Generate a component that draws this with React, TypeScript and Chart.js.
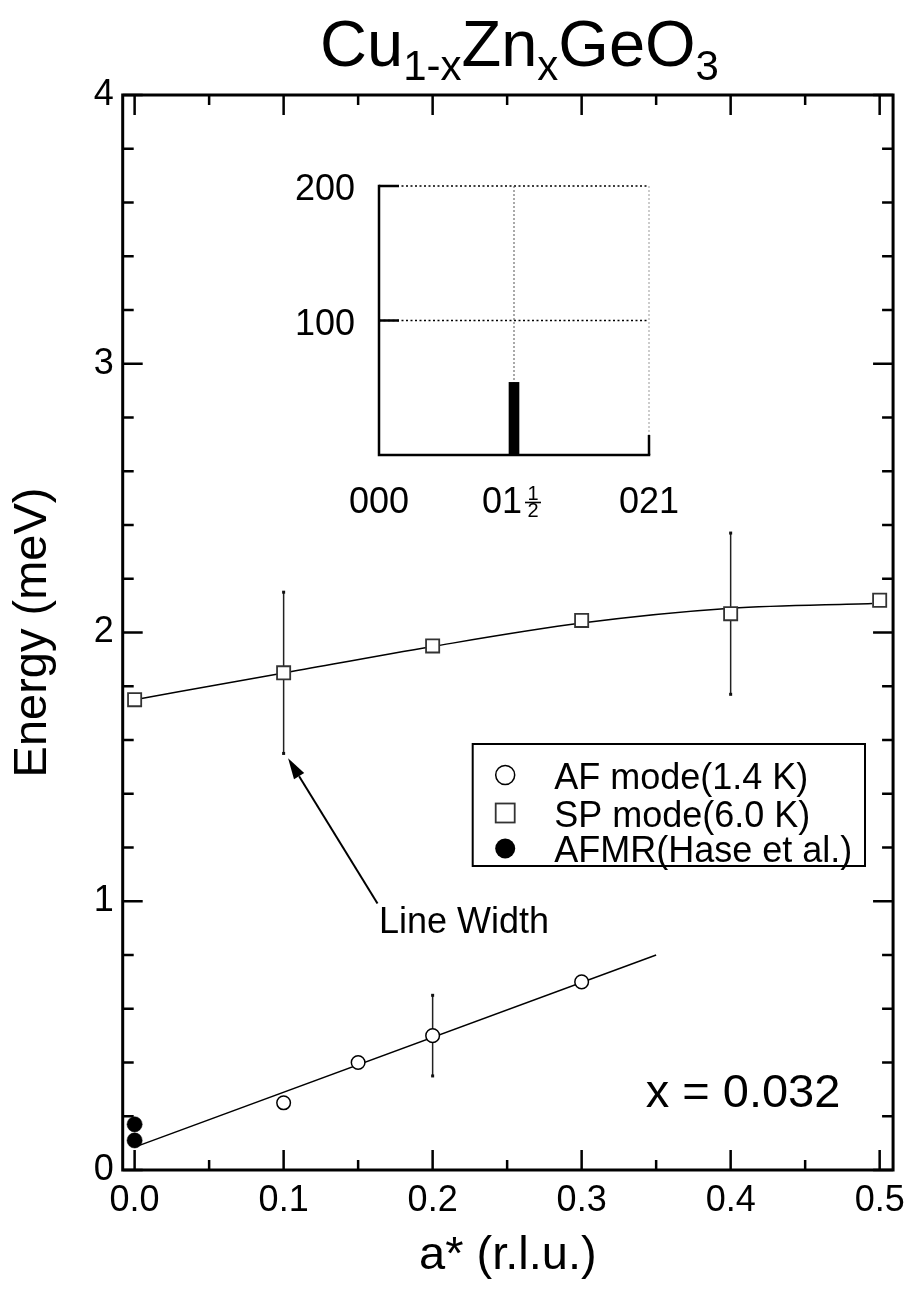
import React, { useEffect, useRef } from "react";
import { Chart, registerables } from "chart.js";

Chart.register(...registerables);

// ---------------- data ----------------
const spX = [0.0, 0.1, 0.2, 0.3, 0.4, 0.5];
const spY = [1.75, 1.85, 1.95, 2.045, 2.07, 2.12];
const spErr = [0, 0.3, 0, 0, 0.3, 0];

// smooth fit curve drawn through the SP data
const spFitX = [0.0, 0.1, 0.2, 0.3, 0.4, 0.495];
const spFitY = [1.75, 1.849, 1.948, 2.035, 2.09, 2.108];

const afX = [0.1, 0.15, 0.2, 0.3];
const afY = [0.25, 0.4, 0.5, 0.7];
const afErr = [0, 0, 0.15, 0];

const afFitX = [0.0, 0.35];
const afFitY = [0.085, 0.8];

const afmrX = [0.0, 0.0];
const afmrY = [0.17, 0.11];

const legendLabels = ["AF mode(1.4 K)", "SP mode(6.0 K)", "AFMR(Hase et al.)"];

const titleParts: [string, boolean][] = [
  ["Cu", false],
  ["1-x", true],
  ["Zn", false],
  ["x", true],
  ["GeO", false],
  ["3", true],
];

const compositionLabel = "x = 0.032";
const annotationLabel = "Line Width";

// inset
const insetXLabels = ["000", "01", "021"]; // middle one gets a 1/2 fraction
const insetBarX = [1];
const insetBarY = [54];
const insetYTicks = [100, 200];

const FONT = "'Liberation Sans', Arial, Helvetica, sans-serif";

// ---------------- main chart plugin ----------------
const mainDecor = {
  id: "mainDecor",
  beforeDatasetsDraw(chart: any) {
    const { ctx, scales } = chart;
    const x = scales.x;
    const y = scales.y;
    ctx.save();
    ctx.strokeStyle = "#222";
    ctx.fillStyle = "#111";
    ctx.lineWidth = 1.5;
    const drawErr = (xs: number[], ys: number[], es: number[]) => {
      xs.forEach((xv, i) => {
        if (!es[i]) return;
        const px = x.getPixelForValue(xv);
        const top = y.getPixelForValue(ys[i] + es[i]);
        const bot = y.getPixelForValue(ys[i] - es[i]);
        ctx.beginPath();
        ctx.moveTo(px, top);
        ctx.lineTo(px, bot);
        ctx.stroke();
        ctx.fillRect(px - 1.5, top - 1.5, 3, 3);
        ctx.fillRect(px - 1.5, bot - 1.5, 3, 3);
      });
    };
    drawErr(spX, spY, spErr);
    drawErr(afX, afY, afErr);
    ctx.restore();
  },
  afterDraw(chart: any) {
    const { ctx, chartArea, scales } = chart;
    const x = scales.x;
    const y = scales.y;
    const { left, right, top, bottom } = chartArea;
    ctx.save();

    // frame
    ctx.strokeStyle = "#000";
    ctx.lineWidth = 3;
    ctx.lineCap = "square";
    ctx.strokeRect(left, top, right - left, bottom - top);

    // ticks (inward, all four sides)
    ctx.lineWidth = 2.5;
    ctx.lineCap = "butt";
    for (let i = 0; i <= 10; i++) {
      const v = i * 0.05;
      const px = x.getPixelForValue(v);
      const len = i % 2 === 0 ? 20 : 10;
      ctx.beginPath();
      ctx.moveTo(px, bottom);
      ctx.lineTo(px, bottom - len);
      ctx.moveTo(px, top);
      ctx.lineTo(px, top + len);
      ctx.stroke();
    }
    for (let i = 0; i <= 20; i++) {
      const v = i * 0.2;
      const py = y.getPixelForValue(v);
      const len = i % 5 === 0 ? 20 : 11;
      ctx.beginPath();
      ctx.moveTo(left, py);
      ctx.lineTo(left + len, py);
      ctx.moveTo(right, py);
      ctx.lineTo(right - len, py);
      ctx.stroke();
    }

    // title with subscripts
    ctx.fillStyle = "#000";
    ctx.textAlign = "left";
    ctx.textBaseline = "alphabetic";
    const bigF = `65px ${FONT}`;
    const smallF = `42px ${FONT}`;
    let total = 0;
    titleParts.forEach(([t, sub]) => {
      ctx.font = sub ? smallF : bigF;
      total += ctx.measureText(t).width;
    });
    let cx = 519.5 - total / 2;
    titleParts.forEach(([t, sub]) => {
      ctx.font = sub ? smallF : bigF;
      ctx.fillText(t, cx, sub ? 80 : 66);
      cx += ctx.measureText(t).width;
    });

    // composition label
    ctx.font = `47px ${FONT}`;
    ctx.fillText(compositionLabel, x.getPixelForValue(0.343), y.getPixelForValue(0.234));

    // annotation arrow
    const tipX = x.getPixelForValue(0.103);
    const tipY = y.getPixelForValue(1.532);
    const tailX = x.getPixelForValue(0.163);
    const tailY = y.getPixelForValue(0.992);
    const ang = Math.atan2(tipY - tailY, tipX - tailX);
    const hl = 21;
    const hw = 6;
    const bx = tipX - hl * Math.cos(ang);
    const by = tipY - hl * Math.sin(ang);
    ctx.lineWidth = 2;
    ctx.beginPath();
    ctx.moveTo(tailX, tailY);
    ctx.lineTo(bx, by);
    ctx.stroke();
    ctx.beginPath();
    ctx.moveTo(tipX, tipY);
    ctx.lineTo(bx + hw * Math.sin(ang), by - hw * Math.cos(ang));
    ctx.lineTo(bx - hw * Math.sin(ang), by + hw * Math.cos(ang));
    ctx.closePath();
    ctx.fill();
    ctx.font = `36px ${FONT}`;
    ctx.fillText(annotationLabel, x.getPixelForValue(0.164), y.getPixelForValue(0.883));

    // legend
    const lx = left + 350;
    const ly = top + 649;
    const lw = 392.3;
    const lh = 122;
    ctx.fillStyle = "#fff";
    ctx.fillRect(lx, ly, lw, lh);
    ctx.strokeStyle = "#000";
    ctx.lineWidth = 2;
    ctx.strokeRect(lx, ly, lw, lh);
    const mx = lx + 32.5;
    const rowMid = [ly + 31, ly + 69, ly + 104.5];
    const rowBase = [ly + 45, ly + 82.5, ly + 118];
    // open circle
    ctx.lineWidth = 1.5;
    ctx.beginPath();
    ctx.arc(mx, rowMid[0], 9.5, 0, Math.PI * 2);
    ctx.fillStyle = "#fff";
    ctx.fill();
    ctx.strokeStyle = "#000";
    ctx.stroke();
    // open square
    ctx.strokeStyle = "#333";
    ctx.lineWidth = 1.8;
    ctx.strokeRect(mx - 9.5, rowMid[1] - 9.5, 19, 19);
    // filled circle
    ctx.beginPath();
    ctx.arc(mx, rowMid[2], 10, 0, Math.PI * 2);
    ctx.fillStyle = "#000";
    ctx.fill();
    ctx.font = `36px ${FONT}`;
    ctx.fillStyle = "#000";
    legendLabels.forEach((t, i) => {
      ctx.fillText(t, lx + 81.5, rowBase[i]);
    });

    ctx.restore();
  },
};

// ---------------- inset plugin ----------------
const insetDecor = {
  id: "insetDecor",
  beforeDatasetsDraw(chart: any) {
    const { ctx, scales } = chart;
    const x = scales.x;
    const y = scales.y;
    ctx.save();
    const x0 = x.getPixelForValue(0);
    const x2 = x.getPixelForValue(insetXLabels.length - 1);
    const y0 = y.getPixelForValue(0);
    const yTop = y.getPixelForValue(200);
    // horizontal dotted grid
    ctx.setLineDash([2, 2.5]);
    ctx.strokeStyle = "#000";
    ctx.lineWidth = 1.5;
    insetYTicks.forEach((t) => {
      const py = y.getPixelForValue(t);
      ctx.beginPath();
      ctx.moveTo(x0, py);
      ctx.lineTo(x2, py);
      ctx.stroke();
    });
    // vertical dotted grid
    ctx.lineWidth = 1;
    ctx.setLineDash([2, 2]);
    insetXLabels.forEach((_, i) => {
      if (i === 0) return;
      const px = x.getPixelForValue(i);
      ctx.strokeStyle = i === 1 ? "#555" : "#999";
      ctx.beginPath();
      ctx.moveTo(px, yTop);
      ctx.lineTo(px, y0);
      ctx.stroke();
    });
    ctx.restore();
  },
  afterDatasetsDraw(chart: any) {
    const { ctx, scales } = chart;
    const x = scales.x;
    const y = scales.y;
    ctx.save();
    const x0 = x.getPixelForValue(0);
    const x2 = x.getPixelForValue(insetXLabels.length - 1);
    const y0 = y.getPixelForValue(0);
    const yTop = y.getPixelForValue(200);
    ctx.strokeStyle = "#000";
    ctx.lineWidth = 2.5;
    ctx.lineCap = "square";
    ctx.beginPath();
    ctx.moveTo(x0, yTop);
    ctx.lineTo(x0, y0);
    ctx.lineTo(x2, y0);
    ctx.stroke();
    ctx.lineCap = "butt";
    ctx.lineWidth = 2.5;
    insetYTicks.forEach((t) => {
      const py = y.getPixelForValue(t);
      ctx.beginPath();
      ctx.moveTo(x0, py);
      ctx.lineTo(x0 + 20, py);
      ctx.stroke();
    });
    insetXLabels.forEach((_, i) => {
      if (i === 0) return;
      const px = x.getPixelForValue(i);
      ctx.beginPath();
      ctx.moveTo(px, y0);
      ctx.lineTo(px, y0 - 20);
      ctx.stroke();
    });

    // labels
    ctx.fillStyle = "#000";
    ctx.font = `36px ${FONT}`;
    ctx.textBaseline = "alphabetic";
    ctx.textAlign = "right";
    insetYTicks.forEach((t) => {
      ctx.fillText(String(t), x0 - 24, y.getPixelForValue(t) + 14);
    });
    insetXLabels.forEach((lab, i) => {
      const px = x.getPixelForValue(i);
      if (i === 1) {
        ctx.textAlign = "right";
        ctx.font = `36px ${FONT}`;
        ctx.fillText(lab, px + 8, y0 + 58);
        // fraction 1/2
        const fc = px + 19;
        ctx.textAlign = "center";
        ctx.font = `20px ${FONT}`;
        ctx.fillText("1", fc, y0 + 45);
        ctx.fillText("2", fc, y0 + 62);
        ctx.lineWidth = 1.6;
        ctx.beginPath();
        ctx.moveTo(fc - 8, y0 + 47.5);
        ctx.lineTo(fc + 8, y0 + 47.5);
        ctx.stroke();
      } else {
        ctx.textAlign = "center";
        ctx.font = `36px ${FONT}`;
        ctx.fillText(lab, px, y0 + 58);
      }
    });
    ctx.restore();
  },
};

function makeMainConfig(): any {
  return {
    type: "scatter",
    data: {
      datasets: [
        {
          label: "AF fit",
          data: afFitX.map((v, i) => ({ x: v, y: afFitY[i] })),
          showLine: true,
          borderColor: "#000",
          borderWidth: 1.5,
          pointRadius: 0,
          order: 5,
        },
        {
          label: "SP fit",
          data: spFitX.map((v, i) => ({ x: v, y: spFitY[i] })),
          showLine: true,
          borderColor: "#000",
          borderWidth: 1.5,
          cubicInterpolationMode: "monotone",
          pointRadius: 0,
          order: 4,
        },
        {
          label: legendLabels[1],
          data: spX.map((v, i) => ({ x: v, y: spY[i] })),
          showLine: false,
          pointStyle: "rect",
          pointRadius: 9.3,
          pointBackgroundColor: "#fff",
          pointBorderColor: "#333",
          pointBorderWidth: 1.8,
          order: 3,
        },
        {
          label: legendLabels[0],
          data: afX.map((v, i) => ({ x: v, y: afY[i] })),
          showLine: false,
          pointStyle: "circle",
          pointRadius: 6.8,
          pointBackgroundColor: "#fff",
          pointBorderColor: "#000",
          pointBorderWidth: 1.5,
          order: 2,
        },
        {
          label: legendLabels[2],
          data: afmrX.map((v, i) => ({ x: v, y: afmrY[i] })),
          showLine: false,
          pointStyle: "circle",
          pointRadius: 7.6,
          pointBackgroundColor: "#000",
          pointBorderColor: "#000",
          pointBorderWidth: 0.5,
          order: 1,
        },
      ],
    },
    options: {
      animation: false,
      responsive: false,
      devicePixelRatio: 1,
      layout: { padding: { left: 0, top: 95, right: 18.3, bottom: 0 } },
      plugins: { legend: { display: false }, tooltip: { enabled: false }, title: { display: false } },
      scales: {
        x: {
          type: "linear",
          position: "bottom",
          min: -0.008,
          max: 0.509,
          ticks: {
            stepSize: 0.1,
            includeBounds: false,
            autoSkip: false,
            maxRotation: 0,
            padding: 9,
            color: "#000",
            font: { family: FONT, size: 36 },
            callback: (v: any) => Number(v).toFixed(1),
          },
          grid: { display: false, drawTicks: false },
          border: { display: false },
          title: {
            display: true,
            text: "a* (r.l.u.)",
            color: "#000",
            font: { family: FONT, size: 47 },
            padding: { top: 0, bottom: 7 },
          },
          afterFit: (s: any) => {
            s.height = 121;
          },
        },
        y: {
          type: "linear",
          position: "left",
          min: 0,
          max: 4,
          ticks: {
            stepSize: 1,
            includeBounds: false,
            autoSkip: false,
            padding: 9,
            color: "#000",
            font: { family: FONT, size: 36 },
            callback: (v: any) => String(v),
          },
          grid: { display: false, drawTicks: false },
          border: { display: false },
          title: {
            display: true,
            text: "Energy (meV)",
            color: "#000",
            font: { family: FONT, size: 47 },
            padding: { top: 4.5, bottom: 0 },
          },
          afterFit: (s: any) => {
            s.width = 122.7;
          },
        },
      },
    },
    plugins: [mainDecor],
  };
}

function makeInsetConfig(): any {
  return {
    type: "bar",
    data: {
      datasets: [
        {
          data: insetBarX.map((v, i) => ({ x: v, y: insetBarY[i] })),
          backgroundColor: "#000",
          borderWidth: 0,
          barThickness: 10,
        },
      ],
    },
    options: {
      animation: false,
      responsive: false,
      devicePixelRatio: 1,
      layout: { padding: { left: 379, top: 186, right: 914 - 649, bottom: 1291 - 455 } },
      plugins: { legend: { display: false }, tooltip: { enabled: false } },
      scales: {
        x: { type: "linear", min: 0, max: 2, offset: false, display: false },
        y: { type: "linear", min: 0, max: 200, display: false },
      },
    },
    plugins: [insetDecor],
  };
}

export default function App() {
  const mainRef = useRef<HTMLCanvasElement>(null);
  const insetRef = useRef<HTMLCanvasElement>(null);
  useEffect(() => {
    const main = new Chart(mainRef.current as HTMLCanvasElement, makeMainConfig());
    const inset = new Chart(insetRef.current as HTMLCanvasElement, makeInsetConfig());
    return () => {
      main.destroy();
      inset.destroy();
    };
  }, []);
  return (
    <div
      style={{
        position: "fixed",
        left: 0,
        top: 0,
        width: 914,
        height: 1291,
        background: "#fff",
        overflow: "hidden",
      }}
    >
      <canvas
        ref={mainRef}
        width={914}
        height={1291}
        style={{ position: "absolute", left: 0, top: 0, width: 914, height: 1291 }}
      />
      <canvas
        ref={insetRef}
        width={914}
        height={1291}
        style={{ position: "absolute", left: 0, top: 0, width: 914, height: 1291, pointerEvents: "none" }}
      />
    </div>
  );
}
